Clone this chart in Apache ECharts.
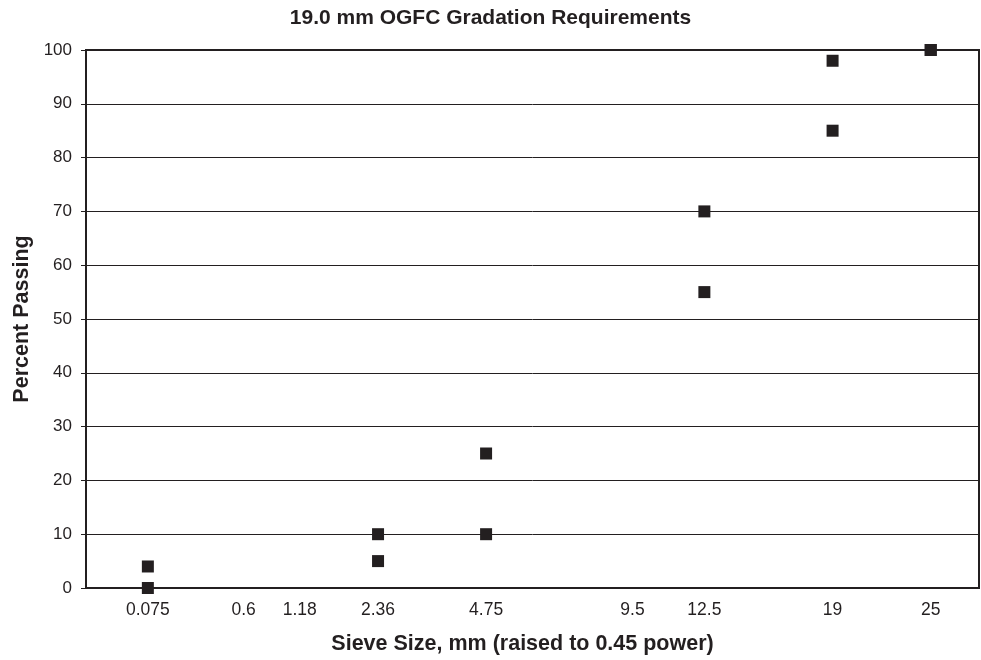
<!DOCTYPE html>
<html>
<head>
<meta charset="utf-8">
<title>19.0 mm OGFC Gradation Requirements</title>
<script src="https://cdn.jsdelivr.net/npm/echarts@6/dist/echarts.min.js"></script>
<style>
  html, body { margin: 0; padding: 0; background: #ffffff; }
  #chart { width: 981px; height: 660px; }
</style>
</head>
<body>
<div id="chart"></div>
<script>
// Sieve sizes (mm) shown along the horizontal axis
const sieveLabels = [0.075, 0.6, 1.18, 2.36, 4.75, 9.5, 12.5, 19, 25];

// Specification band: sieve size with lower and upper percent passing
const specSieves = [0.075, 2.36, 4.75, 12.5, 19, 25];
const lowerLimits = [0, 5, 10, 55, 85, 100];
const upperLimits = [4, 10, 25, 70, 98, 100];

// Gradation chart convention: sieve size raised to the 0.45 power
const POWER = 0.45;
const toPower = s => Math.pow(s, POWER);

const ink = '#231f20';
const fontFamily = 'Liberation Sans, Arial, Helvetica, sans-serif';

const labelPositions = sieveLabels.map(toPower);
const labelText = new Map(sieveLabels.map(s => [toPower(s).toFixed(6), String(s)]));

const makePoints = vals => specSieves.map((s, i) => [toPower(s), vals[i]]);

const markerStyle = { color: ink, opacity: 1 };

const chart = echarts.init(document.getElementById('chart'), null, { renderer: 'canvas' });

chart.setOption({
  backgroundColor: '#ffffff',
  animation: false,
  title: {
    text: '19.0 mm OGFC Gradation Requirements',
    left: 'center',
    top: 3,
    textStyle: { fontFamily, fontWeight: 'bold', fontSize: 21, color: ink }
  },
  grid: {
    left: 86, right: 2, top: 50, bottom: 69,
    show: true, borderColor: ink, borderWidth: 2, backgroundColor: 'transparent'
  },
  xAxis: {
    type: 'value',
    min: 0,
    max: 4.5,
    name: 'Sieve Size, mm (raised to 0.45 power)',
    nameLocation: 'middle',
    nameGap: 45,
    nameTextStyle: {
      fontFamily, fontWeight: 'bold', fontSize: 21.5, color: ink,
      padding: [0, 20, 0, 0]
    },
    axisLine: { show: true, lineStyle: { color: ink, width: 2 } },
    axisTick: { show: false },
    splitLine: { show: false },
    axisLabel: {
      customValues: labelPositions,
      margin: 13,
      fontFamily, fontSize: 17.5, color: ink,
      formatter: v => labelText.get(Number(v).toFixed(6)) || ''
    }
  },
  yAxis: {
    type: 'value',
    min: 0,
    max: 100,
    interval: 10,
    name: 'Percent Passing',
    nameLocation: 'middle',
    nameGap: 52,
    nameTextStyle: { fontFamily, fontWeight: 'bold', fontSize: 21.5, color: ink },
    axisLine: { show: true, lineStyle: { color: ink, width: 2 } },
    axisTick: { show: true, length: 5, lineStyle: { color: ink, width: 1 } },
    splitLine: { show: true, lineStyle: { color: ink, width: 1 } },
    axisLabel: { margin: 14, fontFamily, fontSize: 17, color: ink }
  },
  series: [
    {
      name: 'Lower limit',
      type: 'scatter',
      symbol: 'rect',
      symbolSize: 12,
      itemStyle: markerStyle,
      data: makePoints(lowerLimits)
    },
    {
      name: 'Upper limit',
      type: 'scatter',
      symbol: 'rect',
      symbolSize: 12,
      itemStyle: markerStyle,
      data: makePoints(upperLimits)
    }
  ]
});
</script>
</body>
</html>
